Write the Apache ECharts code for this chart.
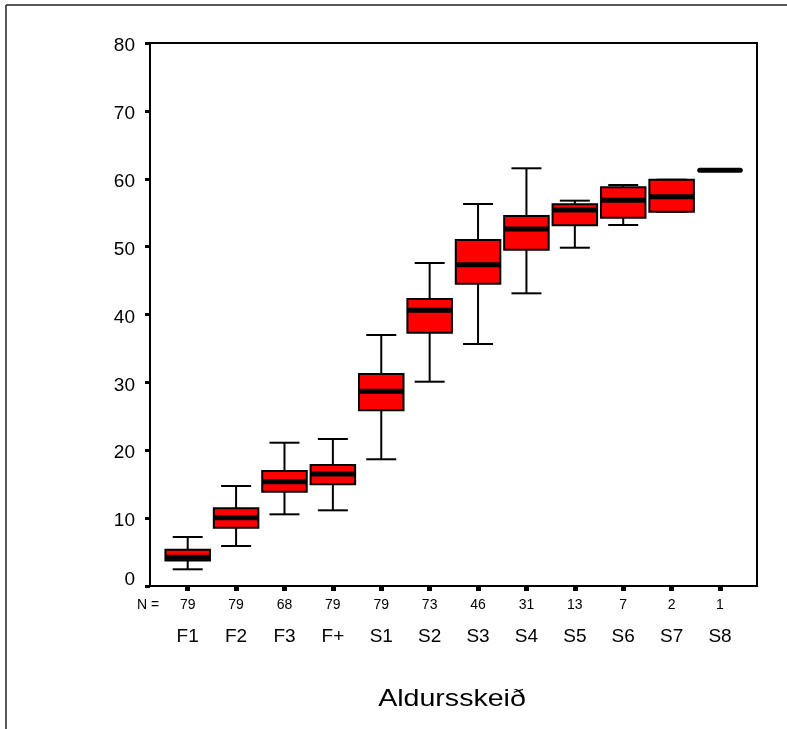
<!DOCTYPE html>
<html>
<head>
<meta charset="utf-8">
<script src="https://cdn.jsdelivr.net/npm/echarts@6/dist/echarts.min.js"></script>
<style>
html,body{margin:0;padding:0;background:#fff;}
#chart{width:787px;height:729px;}
</style>
</head>
<body>
<div id="chart"></div>
<script>
// Categories and counts
var categories = ['F1','F2','F3','F+','S1','S2','S3','S4','S5','S6','S7','S8'];
var counts     = [79, 79, 68, 79, 79, 73, 46, 31, 13, 7, 2, 1];
// Box statistics per category
var whiskerLow  = [2.46, 5.89, 10.56, 11.15, 18.67, 30.1, 35.65, 43.12, 49.84, 53.19, 55.14, 61.24];
var q1          = [3.75, 8.59, 13.89, 14.98, 25.89, 37.32, 44.54, 49.55, 53.14, 54.26, 55.14, 61.24];
var median      = [4.25, 10.06, 15.37, 16.5, 28.68, 40.62, 47.34, 52.6, 55.4, 56.82, 57.36, 61.24];
var q3          = [5.35, 11.45, 16.94, 17.83, 31.23, 42.28, 50.98, 54.51, 56.24, 58.74, 59.86, 61.24];
var whiskerHigh = [7.22, 14.73, 21.11, 21.66, 36.98, 47.59, 56.28, 61.54, 56.77, 59.08, 59.86, 61.24];
var yTicks = [0, 10, 20, 30, 40, 50, 60, 70, 80];

var boxData = categories.map(function (c, i) {
  return [i, whiskerLow[i], q1[i], median[i], q3[i], whiskerHigh[i], counts[i]];
});

var FONT = '"Liberation Sans", Arial, sans-serif';

function renderBox(params, api) {
  var i = api.value(0);
  var band = api.size([1, 0])[0];
  var boxW = band * 0.92;
  var capW = band * 0.62;
  var pLow = api.coord([i, api.value(1)]);
  var pQ1 = api.coord([i, api.value(2)]);
  var pMed = api.coord([i, api.value(3)]);
  var pQ3 = api.coord([i, api.value(4)]);
  var pHigh = api.coord([i, api.value(5)]);
  var x = pMed[0];
  var single = api.value(6) === 1;
  var children = [];
  if (!single) {
    children.push({
      type: 'line',
      shape: { x1: x, y1: pLow[1], x2: x, y2: pHigh[1] },
      style: { stroke: '#000', lineWidth: 2 }
    });
    children.push({
      type: 'line',
      shape: { x1: x - capW / 2, y1: pLow[1], x2: x + capW / 2, y2: pLow[1] },
      style: { stroke: '#000', lineWidth: 2 }
    });
    children.push({
      type: 'line',
      shape: { x1: x - capW / 2, y1: pHigh[1], x2: x + capW / 2, y2: pHigh[1] },
      style: { stroke: '#000', lineWidth: 2 }
    });
    children.push({
      type: 'rect',
      shape: { x: x - boxW / 2, y: pQ3[1], width: boxW, height: pQ1[1] - pQ3[1] },
      style: { fill: '#ff0000', stroke: '#000', lineWidth: 2 }
    });
  }
  children.push({
    type: 'line',
    shape: { x1: x - boxW / 2 + (single ? 2 : 0), y1: pMed[1], x2: x + boxW / 2 - (single ? 2 : 0), y2: pMed[1] },
    style: { stroke: '#000', lineWidth: 5, lineCap: single ? 'round' : 'butt' }
  });
  return { type: 'group', children: children };
}

var chart = echarts.init(document.getElementById('chart'), null, { renderer: 'canvas' });
chart.setOption({
  animation: false,
  backgroundColor: '#fff',
  textStyle: { fontFamily: FONT },
  grid: [
    { left: 150, top: 43, width: 607, height: 543, show: true, borderColor: '#000', borderWidth: 2, backgroundColor: 'transparent' },
    { left: 163.5, top: 43, width: 580.7, height: 543, show: false }
  ],
  xAxis: [
    { gridIndex: 0, type: 'value', show: false, min: 0, max: 1 },
    {
      gridIndex: 1, type: 'category', data: categories,
      boundaryGap: true,
      axisLine: { show: false },
      axisTick: { show: true, alignWithLabel: true, length: 5, lineStyle: { color: '#000', width: 5 } },
      splitLine: { show: false },
      axisLabel: {
        margin: 6,
        interval: 0,
        color: '#000',
        formatter: function (val, idx) {
          return '{n|' + counts[idx] + '}\n{c|' + val + '}';
        },
        rich: {
          n: { fontSize: 14, lineHeight: 26, fontFamily: FONT, color: '#000' },
          c: { fontSize: 19, lineHeight: 38, fontFamily: FONT, color: '#000' }
        }
      }
    }
  ],
  yAxis: [
    {
      gridIndex: 0, type: 'value', min: yTicks[0], max: yTicks[yTicks.length - 1], interval: 10,
      axisLine: { show: false },
      axisTick: { show: true, length: 5, lineStyle: { color: '#000', width: 3 } },
      splitLine: { show: false },
      axisLabel: {
        margin: 15, color: '#000', fontSize: 19, fontFamily: FONT,
        formatter: function (v) { return v === 0 ? '{z|0}' : '{a|' + v + '}'; },
        rich: {
          a: { fontSize: 19, fontFamily: FONT, color: '#000', padding: [6, 0, 0, 0] },
          z: { fontSize: 19, fontFamily: FONT, color: '#000', padding: [0, 0, 12, 0] }
        }
      }
    },
    { gridIndex: 1, type: 'value', min: 0, max: 80, show: false }
  ],
  graphic: [
    { type: 'line', shape: { x1: 6, y1: 5, x2: 787, y2: 5 }, style: { stroke: '#222', lineWidth: 1.5 } },
    { type: 'line', shape: { x1: 6, y1: 5, x2: 6, y2: 729 }, style: { stroke: '#222', lineWidth: 1.5 } },
    { type: 'text', x: 148, y: 605, style: { text: 'N =', fill: '#000', font: '14px ' + FONT, textAlign: 'center', textVerticalAlign: 'middle' } },
    { type: 'text', x: 452, y: 699, scaleX: 1.19, style: { text: 'Aldursskeið', fill: '#000', font: '24px ' + FONT, textAlign: 'center', textVerticalAlign: 'middle' } }
  ],
  series: [
    {
      type: 'custom',
      xAxisIndex: 1,
      yAxisIndex: 1,
      data: boxData,
      encode: { x: 0, y: [1, 2, 3, 4, 5] },
      renderItem: renderBox,
      z: 3
    }
  ]
});
</script>
</body>
</html>
